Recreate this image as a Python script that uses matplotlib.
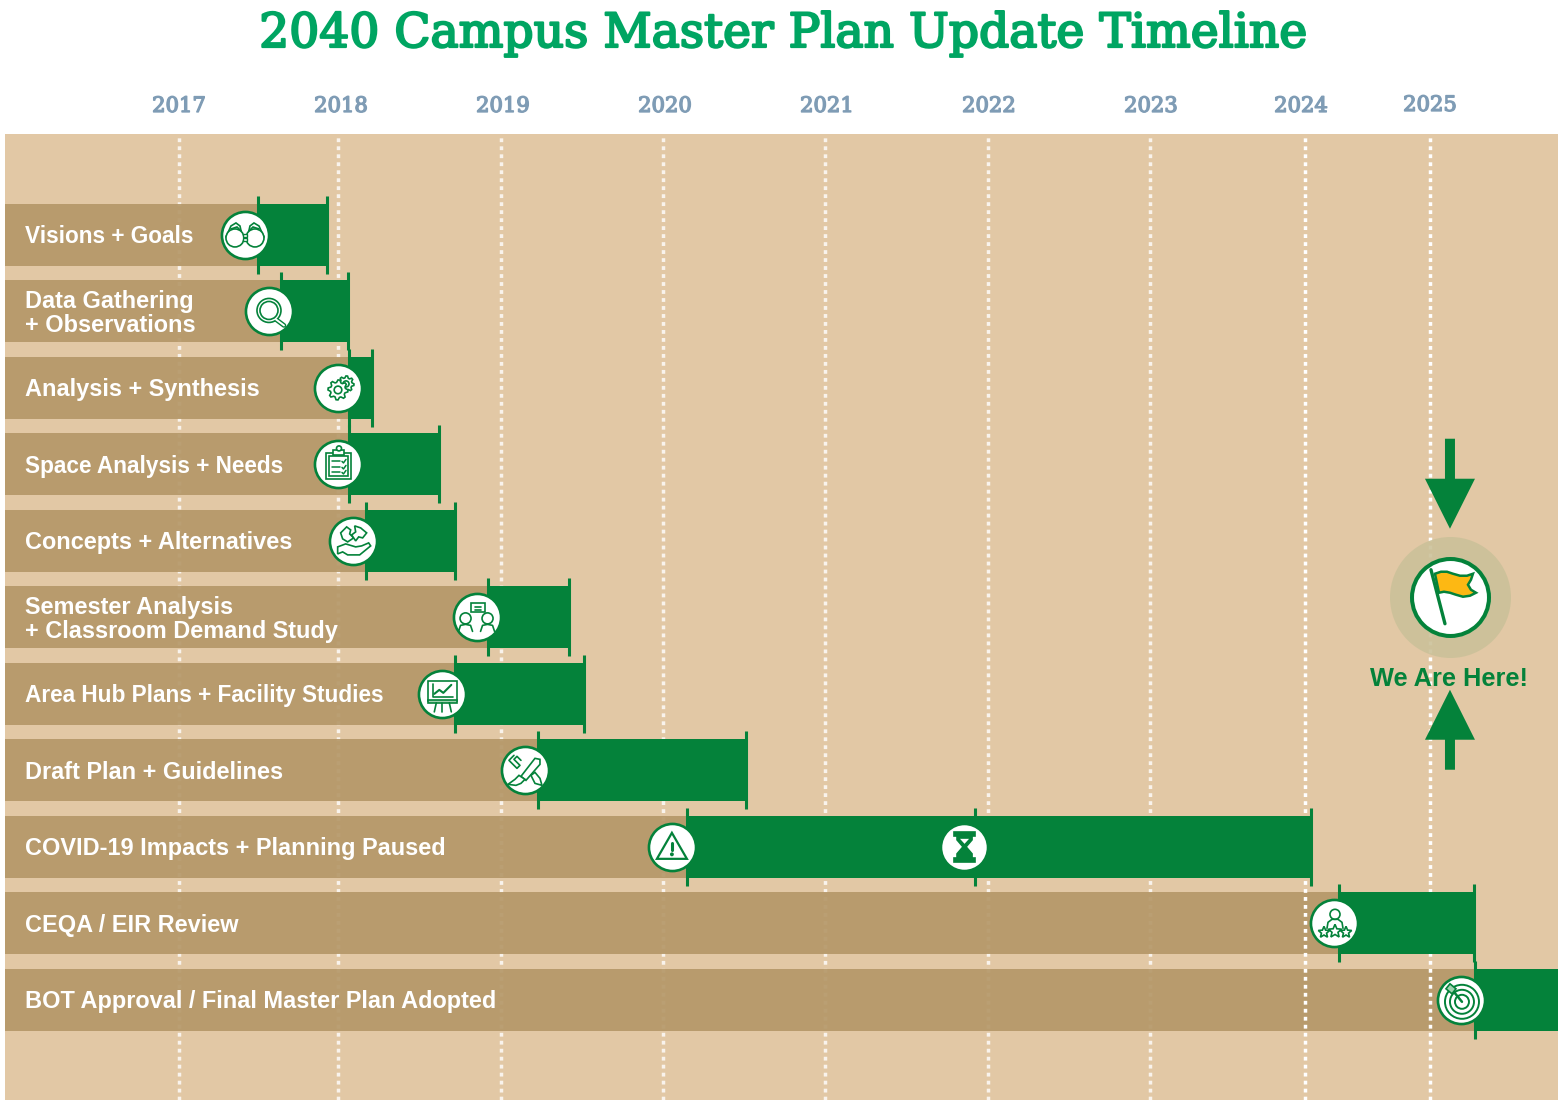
import numpy as np
import matplotlib
matplotlib.use("Agg")
import matplotlib.pyplot as plt
import matplotlib.patheffects as pe
from matplotlib.patches import Polygon, Circle, Rectangle
from matplotlib.lines import Line2D
from matplotlib.transforms import Affine2D, ScaledTranslation

# ------------------------------
# data
# ------------------------------
tasks = ["Visions + Goals", "Data Gathering\n+ Observations", "Analysis + Synthesis",
         "Space Analysis + Needs", "Concepts + Alternatives",
         "Semester Analysis\n+ Classroom Demand Study", "Area Hub Plans + Facility Studies",
         "Draft Plan + Guidelines", "COVID-19 Impacts + Planning Paused", "CEQA / EIR Review",
         "BOT Approval / Final Master Plan Adopted"]
task_start = [2017.50, 2017.64, 2018.07, 2018.07, 2018.17, 2018.92, 2018.72, 2019.23, 2020.15, 2024.27, 2025.35]
task_end = [2017.93, 2018.06, 2018.21, 2018.62, 2018.72, 2019.42, 2019.51, 2020.51, 2024.05, 2025.34, 2026.0]
icon_year = [2017.415, 2017.566, 2018.0, 2018.0, 2018.09, 2018.85, 2018.64, 2019.148, 2020.055, 2024.232, 2025.242]
pause_year = 2021.853
pause_whisker = 2021.92
here_year = 2025.156
here_row = 4.73

years = [2017, 2018, 2019, 2020, 2021, 2022, 2023, 2024, 2025]
year_labels = ["2017", "2018", "2019", "2020", "2021", "2022", "2023", "2024", "2025"]
# the time axis of the original is not quite even
axis_years = [2015, 2017, 2018, 2019, 2020, 2021, 2022, 2023, 2024, 2025, 2026, 2028]
axis_px = [-145, 179, 338, 501, 663, 825, 988, 1150, 1305, 1430, 1558, 1814]

SAND = "#e2c8a5"
TAN = "#b59869"
GREEN = "#04823a"
TITLE = "#00a562"
BLUE = "#7f9cb5"
GOLD = "#fdb813"


def forward(x):
    return np.interp(x, axis_years, axis_px)


def inverse(p):
    return np.interp(p, axis_px, axis_years)


W, H = 1562, 1104
fig = plt.figure(figsize=(W / 100, H / 100), dpi=100, facecolor="white")
ax = fig.add_axes([5 / W, 4 / H, 1553 / W, 966 / H], facecolor=SAND)
ax.set_xscale("function", functions=(forward, inverse))
ax.set_xlim(2015.926, 2026)
ax.set_ylim(11.31, -1.32)
for s in ax.spines.values():
    s.set_visible(False)
ax.set_yticks([])
ax.minorticks_off()

# ------------------------------
# year axis on top
# ------------------------------
ax.xaxis.tick_top()
ax.set_xticks(years, labels=year_labels)
ax.tick_params(axis="x", length=0, pad=13, labelsize=15.2, labelcolor=BLUE)
shift = [0, 3, 2, 2, 2, 1, 1, -4, 0]
shift_up = [0, 0, 0, 0, 0, 0, 0, 0, 1]
for lab, dx, dy in zip(ax.get_xticklabels(), shift, shift_up):
    lab.set_fontfamily("DejaVu Serif")
    lab.set_path_effects([pe.withStroke(linewidth=1.0, foreground=BLUE)])
    lab.set_transform(lab.get_transform() + Affine2D().translate(dx, dy))

for yr in years:
    strong = yr >= 2024
    ax.axvline(yr, color="white", lw=2.5, alpha=1.0 if strong else 0.8,
               ls=(0, (1.1, 1.2)), zorder=3 if strong else 1)

# ------------------------------
# bars
# ------------------------------
rows = np.arange(len(tasks))
bar_h = 0.81
ax.barh(rows, np.array(task_start) - ax.get_xlim()[0], left=ax.get_xlim()[0], height=bar_h,
        color=TAN, alpha=0.92, zorder=2)
ax.barh(rows, np.array(task_end) - np.array(task_start), left=task_start, height=bar_h,
        color=GREEN, zorder=4)
ax.vlines(task_start, rows - 0.51, rows + 0.51, color=GREEN, lw=2.2, zorder=4)
ax.vlines(task_end[:-1], rows[:-1] - 0.51, rows[:-1] + 0.51, color=GREEN, lw=2.2, zorder=4)
ax.vlines([pause_whisker], 8 - 0.51, 8 + 0.51, color=GREEN, lw=2.2, zorder=4)

# a few labels run a little narrower in the original
narrow = ["Visions + Goals", "Space Analysis + Needs", "Area Hub Plans + Facility Studies"]
for i, t in enumerate(tasks):
    ax.annotate(t, xy=(0, i), xycoords=("axes fraction", "data"), xytext=(20, -2), textcoords="offset pixels",
                ha="left", va="center", color="white", fontsize=16.3 if t in narrow else 16.9, fontweight="bold",
                fontfamily="Liberation Sans", linespacing=1.02, zorder=6)

# icon circles
ax.scatter(icon_year, rows, s=1150, c="white", edgecolors=GREEN, linewidths=1.9, zorder=7, clip_on=False)
ax.scatter([pause_year], [8], s=1150, c="white", edgecolors=GREEN, linewidths=1.9, zorder=7)


# ------------------------------
# icons, small shapes in pixel offsets around a data point (y going down)
# ------------------------------
def at(x, y):
    return Affine2D().scale(1, -1) + ScaledTranslation(x, y, ax.transData)


def line(tr, pts, lw=1.2, z=8, color=GREEN):
    p = np.array(pts, dtype=float)
    ax.add_line(Line2D(p[:, 0], p[:, 1], transform=tr, color=color, lw=lw, zorder=z, clip_on=False,
                       solid_capstyle="round", solid_joinstyle="round"))


def poly(tr, pts, fc="white", ec=GREEN, lw=1.2, z=8):
    ax.add_patch(Polygon(pts, closed=True, transform=tr, fc=fc, ec=ec, lw=lw, zorder=z, clip_on=False))


def ring(tr, x, y, r, fc="white", ec=GREEN, lw=1.2, z=8):
    ax.add_patch(Circle((x, y), r, transform=tr, fc=fc, ec=ec, lw=lw, zorder=z, clip_on=False))


def box(tr, x0, y0, x1, y1, fc="white", ec=GREEN, lw=1.2, z=8):
    ax.add_patch(Rectangle((x0, y0), x1 - x0, y1 - y0, transform=tr, fc=fc, ec=ec, lw=lw, zorder=z, clip_on=False))


def gear(tr, x, y, r, teeth, z=8):
    a = np.linspace(0, 2 * np.pi, teeth * 4, endpoint=False)
    rr = np.where(np.arange(teeth * 4) % 4 < 2, r, r * 0.76)
    poly(tr, np.c_[x + rr * np.cos(a), y + rr * np.sin(a)], z=z)
    ring(tr, x, y, r * 0.38, z=z)


def star(tr, x, y, r, z=8):
    a = np.linspace(-np.pi / 2, 1.5 * np.pi, 10, endpoint=False)
    rr = np.where(np.arange(10) % 2 == 0, r, r * 0.45)
    poly(tr, np.c_[x + rr * np.cos(a), y + rr * np.sin(a)], z=z)


# binoculars
tr = at(icon_year[0], 0)
poly(tr, [(-19, 2), (-14, -9), (-9, -12), (-5, -9), (-3, 0), (-3, 6), (-15, 8)])
poly(tr, [(19, 2), (14, -9), (9, -12), (5, -9), (3, 0), (3, 6), (15, 8)])
line(tr, [(-14, -6), (-8, -8), (-4, -4)])
line(tr, [(14, -6), (8, -8), (4, -4)])
ring(tr, -10, 3, 9)
ring(tr, 10, 3, 9)
box(tr, -2, -1, 2, 2, lw=1)
box(tr, -2, 3, 2, 6, lw=1)

# magnifier
tr = at(icon_year[1], 1)
line(tr, [(7, 8), (15, 14)], lw=3.4)
line(tr, [(7, 8), (15, 14)], lw=1.4, z=9, color="white")
ring(tr, 0, -1, 12)
ring(tr, 0, -1, 9)

# gears
tr = at(icon_year[2], 2)
gear(tr, 8, -4, 8, 8)
gear(tr, 0, 2, 10, 8, z=9)

# clipboard
tr = at(icon_year[3], 3)
box(tr, -12, -11, 13, 15)
box(tr, -9, -8, 10, 12)
box(tr, -5, -14, 6, -9)
ring(tr, 1, -16, 2.5)
for yy in [-3, 3, 8]:
    line(tr, [(-6, yy), (2, yy)], lw=1.1)
    line(tr, [(4, yy), (5.5, yy + 1.5), (8, yy - 2)], lw=1.1)

# hand with puzzle pieces
tr = at(icon_year[4], 4)
poly(tr, [(-15, 6), (-7, 3), (3, 6), (9, 5), (16, 2), (18, 5), (7, 14), (-5, 14), (-10, 11), (-15, 13)])
poly(tr, [(-12, -8), (-6, -14), (-2, -11), (-3, -7), (1, -3), (-5, 1), (-10, -2)])
poly(tr, [(2, -15), (8, -13), (14, -8), (10, -3), (6, -4), (3, 0), (-1, -6), (3, -9)])

# two people talking
tr = at(icon_year[5], 5)
box(tr, -6, -14, 8, -5)
line(tr, [(-2, -10), (4, -10)])
line(tr, [(-2, -7.5), (4, -7.5)])
ring(tr, -11, 1, 5.5)
ring(tr, 11, 1, 5.5)
line(tr, [(-18, 14), (-16, 8), (-11, 7), (-6, 8), (-4, 14)])
line(tr, [(4, 14), (6, 8), (11, 7), (16, 8), (18, 14)])

# presentation board
tr = at(icon_year[6], 6)
box(tr, -14, -13, 15, 7)
box(tr, -14, 6, 15, 9, fc="#9fd3b0")
line(tr, [(-9, -10), (-9, 3), (11, 3)])
line(tr, [(-8, 0), (-3, -4), (1, -1), (9, -9)], lw=1.5)
line(tr, [(-6, 9), (-8, 18)])
line(tr, [(0, 9), (0, 18)])
line(tr, [(7, 9), (9, 18)])

# brush and pencil
tr = at(icon_year[7], 7)
line(tr, [(-11, -15), (-16, -10), (-8, -2), (-5, -5), (-11, -11), (-8, -14), (-4, -10)])
poly(tr, [(-4, 6), (10, -12), (15, -11), (15, -6), (1, 10)])
poly(tr, [(-6, 5), (-10, 9), (-17, 14), (-9, 15), (-4, 13), (0, 9)])
poly(tr, [(6, 5), (10, 2), (15, 8), (17, 15), (10, 13)])

# warning sign
tr = at(icon_year[8], 8)
poly(tr, [(-15, 12), (0, -14), (15, 12)], lw=1.6)
line(tr, [(0, -4), (0, 3)], lw=2.2)
ring(tr, 0, 7.5, 1.1, fc=GREEN)

# hourglass
tr = at(pause_year, 8)
box(tr, -10, -15, 11, -11, fc=GREEN)
box(tr, -10, 11, 11, 15, fc=GREEN)
poly(tr, [(-7, -11), (8, -11), (8, -7), (2, 0), (8, 7), (8, 11), (-7, 11), (-7, 7), (-1, 0), (-7, -7)], fc=GREEN)
poly(tr, [(-4, -8), (5, -8), (0.5, -3)], fc="white", ec="none")

# person with three stars
tr = at(icon_year[9], 9)
ring(tr, 1, -9, 5)
line(tr, [(-7, 5), (-6, -1), (-2, -4), (4, -4), (8, -1), (9, 5)])
star(tr, -10, 9, 6)
star(tr, 1, 8, 7)
star(tr, 12, 9, 6)

# target with arrow
tr = at(icon_year[10], 10)
for r in [17, 12, 7]:
    ring(tr, 1, 2, r, lw=1.4)
line(tr, [(-8, -9), (1, 2)], lw=1.8, z=9)
poly(tr, [(-15, -11), (-11, -16), (-5, -11), (-9, -6)], fc="#9fd3b0", z=9)

# ------------------------------
# we are here marker
# ------------------------------
ax.scatter([here_year], [here_row], s=7590, c="#cbc199", linewidths=0, alpha=0.9, zorder=4)
ax.scatter([here_year], [here_row], s=3072, c="white", edgecolors=GREEN, linewidths=2.9, zorder=7)
tr = at(here_year, here_row)
line(tr, [(-19, -27), (-5, 27)], lw=2.4)
poly(tr, [(-15, -23), (-9, -25), (-3, -25), (3, -23), (10, -21), (17, -21), (23, -23), (21, -17), (18, -12),
          (21, -7), (26, -4), (20, -1), (13, 0), (6, -2), (0, -4), (-6, -5), (-11, -4)],
     fc=GOLD, lw=1.8)
poly(tr, [(-5, -158), (5, -158), (5, -118), (25, -118), (0, -68), (-25, -118), (-5, -118)], fc=GREEN, ec="none", z=5)
poly(tr, [(-5, 173), (5, 173), (5, 143), (25, 143), (0, 93), (-25, 143), (-5, 143)], fc=GREEN, ec="none", z=5)
ax.annotate("We Are Here!", xy=(here_year, here_row), xytext=(-1, -82), textcoords="offset pixels",
            ha="center", va="center", color=GREEN, fontsize=18.3, fontweight="bold",
            fontfamily="Liberation Sans", zorder=6)

fig.text(784 / W, 1 - 47 / H, "2040 Campus Master Plan Update Timeline", ha="center", va="baseline",
         color=TITLE, fontsize=34, fontfamily="DejaVu Serif",
         path_effects=[pe.withStroke(linewidth=1.6, foreground=TITLE)])

fig.savefig("out.png", dpi=100, facecolor="white")
